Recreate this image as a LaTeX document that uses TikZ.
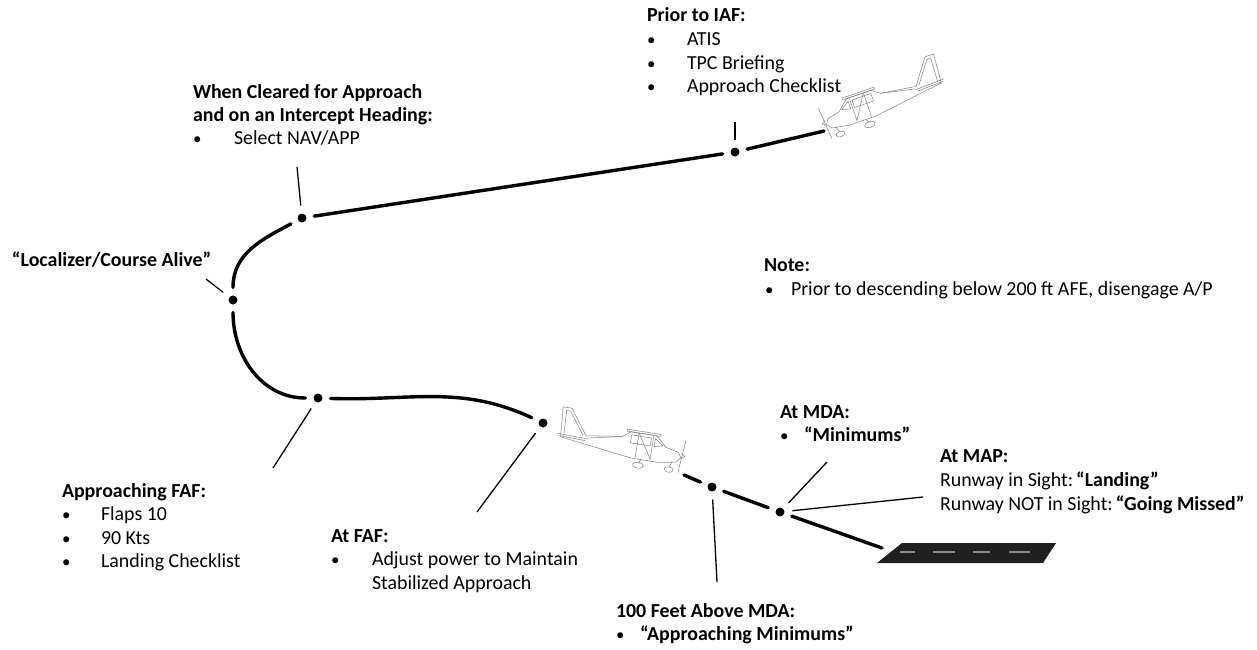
\documentclass[tikz,border=0pt]{standalone}
\usepackage{fontspec}
\setmainfont{Carlito}
\newcommand\bul[2]{\makebox[#1][l]{\scalebox{0.85}{•}}#2}
\begin{document}
\begin{tikzpicture}[x=1pt,y=1pt,
  txt/.style={anchor=base west, inner sep=0pt, outer sep=0pt,
    font=\fontsize{19.9}{23.5}\selectfont},
  hd/.style={txt, font=\fontsize{19.9}{23.5}\selectfont\bfseries},
  wp/.style={circle, fill=black, inner sep=0pt, minimum size=9pt, outer sep=8pt},
  route/.style={line width=3.4pt, line cap=round},
  leader/.style={line width=1.3pt},
  planeline/.style={draw=black!50, line width=0.5pt, line join=round},
  cessna/.pic={
    % fin
    \draw[planeline] (-98,5) -- (-116,30) -- (-125,30) -- (-123,0);
    \draw[planeline] (-101,5) -- (-117,27) -- (-121,27) -- (-120,2);
    % fuselage outline
    \draw[planeline] (-98,5) -- (-62,10) -- (-54,16) -- (-28,16) -- (-17,6)
      -- (-4,3) -- (-1,-2) -- (-5,-7) -- (-22,-10) -- (-50,-10) -- (-123,0);
    \draw[planeline] (-62,10) -- (-96,3);
    % wing, strut, cabin
    \draw[planeline] (-58,16) -- (-24,16) -- (-24,18) -- (-58,18) -- cycle;
    \draw[planeline] (-46,16) -- (-31,-8);
    \draw[planeline] (-31,15) -- (-31,-9) (-46,15) -- (-46,-9);
    \draw[planeline] (-53,13) -- (-33,13) -- (-33,5) -- (-53,5) -- cycle;
    \draw[planeline] (-29,13) -- (-20,7) -- (-29,5) -- cycle;
    % tailplane
    \draw[planeline] (-96,2) -- (-127,3) (-98,0) -- (-125,1);
    % landing gear
    \draw[planeline] (-40,-10) -- (-42,-14);
    \draw[planeline] (-42,-16) ellipse (5.5 and 3);
    \draw[planeline] (-9,-7) -- (-11,-13);
    \draw[planeline] (-11,-15.5) ellipse (4.5 and 2.7);
    % propeller and spinner
    \draw[planeline] (1.5,16) -- (-1.5,-17);
    \draw[planeline] (-1,2.5) -- (3,0) -- (-1,-2.5);
  }]
\useasboundingbox (0,0) rectangle (1257,-649);
\fill[white] (0,0) rectangle (1257,-649);

% aircraft
\pic[rotate=19, xscale=-1] at (825,-123) {cessna};
\pic[rotate=-9] at (682,-456) {cessna};

% runway
\fill[black!88] (877,-563) -- (902,-543) -- (1056,-543) -- (1043,-563) -- cycle;
\foreach \a/\b in {900/915, 933/955, 973/990, 1009/1030}
  \draw[black!45, line width=1.6pt] (\a,-552) -- (\b,-552);

% waypoints
\node[wp] (iaf)  at (735,-152) {};
\node[wp] (clr)  at (302,-218) {};
\node[wp] (loc)  at (233,-300) {};
\node[wp] (afaf) at (318,-398) {};
\node[wp] (faf)  at (543,-423) {};
\node[wp] (hund) at (712,-487) {};
\node[wp] (map)  at (780,-512) {};

\coordinate (nose1) at (824,-131);
\coordinate (nose2) at (684,-475);
\coordinate (rwy)   at (882,-548);

% flight path
\draw[route] (nose1) -- (iaf);
\draw[route] (iaf) -- (clr);
\draw[route] (clr) to[out=208, in=90] (loc);
\draw[route] (loc) to[out=-90, in=180] (afaf);
\draw[route] (afaf) to[out=-2, in=155] (faf);
\draw[route] (nose2) -- (hund);
\draw[route] (hund) -- (map);
\draw[route] (map) -- (rwy);

% leader lines
\coordinate (liaf)  at (735,-122);
\coordinate (lclr)  at (297,-167);
\coordinate (lloc)  at (206,-279);
\coordinate (lafaf) at (273,-468);
\coordinate (lfaf)  at (477,-512);
\coordinate (lhund) at (717,-582);
\coordinate (lmda)  at (827,-462);
\coordinate (lmap)  at (923,-497);
\draw[leader] (iaf) -- (liaf);
\draw[leader] (clr) -- (lclr);
\draw[leader] (loc) -- (lloc);
\draw[leader] (afaf) -- (lafaf);
\draw[leader] (faf) -- (lfaf);
\draw[leader] (hund) -- (lhund);
\draw[leader] (map) -- (lmda);
\draw[leader] (map) -- (lmap);

% labels
\node[hd]  (tiaf)  at (647,-21)   {Prior to IAF:};
\node[txt] (tiaf1) at (647,-45.5) {\bul{40pt}{ATIS}};
\node[txt] (tiaf2) at (647,-69)   {\bul{40pt}{TPC Briefing}};
\node[txt] (tiaf3) at (647,-92.5) {\bul{40pt}{Approach Checklist}};

\node[hd]  (tclr)  at (193,-98.3)  {When Cleared for Approach};
\node[hd]  (tclr2) at (193,-121.7) {and on an Intercept Heading:};
\node[txt] (tclr3) at (193,-144.5) {\bul{41pt}{Select NAV/APP}};

\node[hd]  (tloc)  at (12,-266) {“Localizer/Course Alive”};

\node[hd]  (tnote)  at (764,-271.5) {Note:};
\node[txt] (tnote1) at (765,-295)   {\bul{26pt}{Prior to descending below 200 ft AFE, disengage A/P}};

\node[hd]  (tmda)  at (780,-418)   {At MDA:};
\node[txt] (tmda1) at (780,-441.5) {\bul{24pt}{\bfseries “Minimums”}};

\node[hd]  (tmap)  at (940,-462.5) {At MAP:};
\node[txt] (tmap1) at (940,-486.5) {Runway in Sight:\hspace{3pt}\textbf{“Landing”}};
\node[txt] (tmap2) at (940,-510)   {Runway NOT in Sight:\hspace{3pt}\textbf{“Going Missed”}};

\node[hd]  (tafaf)  at (62,-497)   {Approaching FAF:};
\node[txt] (tafaf1) at (62,-520.5) {\bul{39pt}{Flaps 10}};
\node[txt] (tafaf2) at (62,-544)   {\bul{39pt}{90 Kts}};
\node[txt] (tafaf3) at (62,-567.5) {\bul{39pt}{Landing Checklist}};

\node[hd]  (tfaf)  at (331,-542)   {At FAF:};
\node[txt] (tfaf1) at (331,-565.5) {\bul{41pt}{Adjust power to Maintain}};
\node[txt] (tfaf2) at (372,-589)   {Stabilized Approach};

\node[hd]  (thund)  at (616,-617)   {100 Feet Above MDA:};
\node[txt] (thund1) at (616,-640.5) {\bul{24pt}{\bfseries “Approaching Minimums”}};
\end{tikzpicture}
\end{document}
